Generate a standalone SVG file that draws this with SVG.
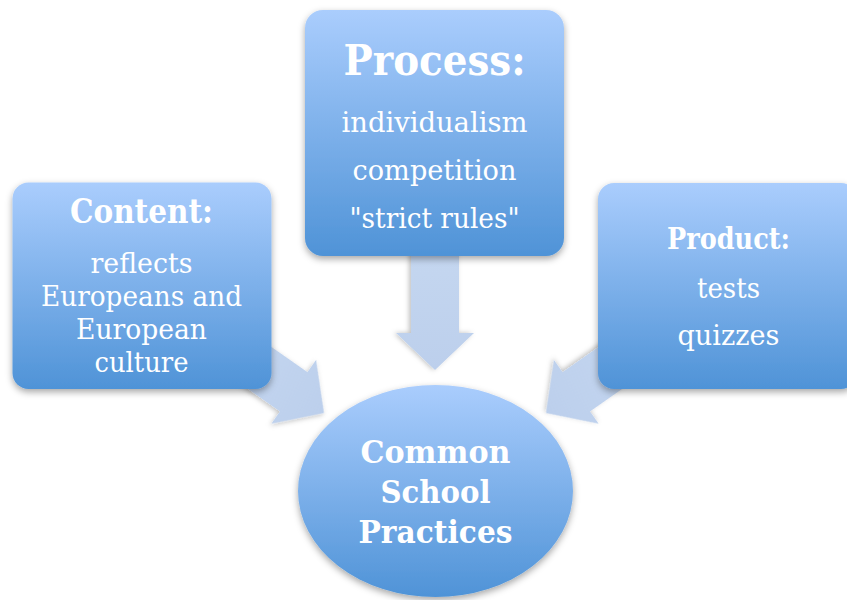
<svg xmlns="http://www.w3.org/2000/svg" width="847" height="600" viewBox="0 0 847 600">
  <defs>
    <linearGradient id="boxGrad" x1="0" y1="0" x2="0" y2="1">
      <stop offset="0" stop-color="#aacdfd"/>
      <stop offset="1" stop-color="#4f93d7"/>
    </linearGradient>
    <linearGradient id="arrowGrad" x1="0" y1="0" x2="1" y2="0">
      <stop offset="0" stop-color="#c5d7f0"/>
      <stop offset="1" stop-color="#bccfec"/>
    </linearGradient>
    <filter id="shadow" x="-20%" y="-20%" width="140%" height="140%">
      <feDropShadow dx="0" dy="3" stdDeviation="3.5" flood-color="#000" flood-opacity="0.35"/>
    </filter>
    <filter id="ashadow" x="-20%" y="-20%" width="140%" height="140%">
      <feDropShadow dx="0" dy="2" stdDeviation="2.5" flood-color="#000" flood-opacity="0.25"/>
    </filter>
    <path id="arrowShape" d="M -125,-24 L -37,-24 L -37,-39 L 0,0 L -37,39 L -37,24 L -125,24 Z"/>
  </defs>
  <style>
    .box { fill: url(#boxGrad); filter: url(#shadow); }
    .arrow { fill: url(#arrowGrad); filter: url(#ashadow); }
    .title { font-family: "DejaVu Serif", "Liberation Serif", serif; font-weight: bold; fill: #ffffff; text-anchor: middle; }
    .body { font-family: "DejaVu Serif", "Liberation Serif", serif; fill: #ffffff; text-anchor: middle; }
  </style>
  <rect width="847" height="600" fill="#ffffff"/>

  <g id="connectors">
    <use href="#arrowShape" class="arrow" transform="translate(435,370) rotate(90)"/>
    <use href="#arrowShape" class="arrow" transform="translate(324,413) rotate(35)"/>
    <use href="#arrowShape" class="arrow" transform="translate(546,413) rotate(145)"/>
  </g>

  <g id="content">
    <rect class="box" x="12.5" y="182.5" width="259" height="206.5" rx="16"/>
    <text class="title" x="141.5" y="223" font-size="34" textLength="143" lengthAdjust="spacingAndGlyphs">Content:</text>
    <text class="body" x="141.5" y="273" font-size="27" textLength="102" lengthAdjust="spacingAndGlyphs">reflects</text>
    <text class="body" x="141.5" y="306" font-size="27" textLength="201" lengthAdjust="spacingAndGlyphs">Europeans and</text>
    <text class="body" x="141.5" y="339" font-size="27" textLength="131" lengthAdjust="spacingAndGlyphs">European</text>
    <text class="body" x="141.5" y="372" font-size="27" textLength="94" lengthAdjust="spacingAndGlyphs">culture</text>
  </g>

  <g id="process">
    <rect class="box" x="305" y="10" width="259" height="246" rx="18"/>
    <text class="title" x="434.5" y="75" font-size="43" textLength="182" lengthAdjust="spacingAndGlyphs">Process:</text>
    <text class="body" x="434.5" y="132" font-size="27.5" textLength="186" lengthAdjust="spacingAndGlyphs">individualism</text>
    <text class="body" x="434.5" y="180" font-size="27.5" textLength="164" lengthAdjust="spacingAndGlyphs">competition</text>
    <text class="body" x="434.5" y="228" font-size="27.5" textLength="170" lengthAdjust="spacingAndGlyphs">"strict rules"</text>
  </g>

  <g id="product">
    <rect class="box" x="598" y="183" width="259" height="206" rx="16"/>
    <text class="title" x="728.5" y="249" font-size="29" textLength="123" lengthAdjust="spacingAndGlyphs">Product:</text>
    <text class="body" x="728.5" y="298" font-size="27.5" textLength="63" lengthAdjust="spacingAndGlyphs">tests</text>
    <text class="body" x="728.5" y="345" font-size="27.5" textLength="102" lengthAdjust="spacingAndGlyphs">quizzes</text>
  </g>

  <g id="common-school-practices">
    <ellipse class="box" cx="435.5" cy="491" rx="137.5" ry="106"/>
    <text class="title" x="435.5" y="463" font-size="32" textLength="150" lengthAdjust="spacingAndGlyphs">Common</text>
    <text class="title" x="435.5" y="503" font-size="32" textLength="110" lengthAdjust="spacingAndGlyphs">School</text>
    <text class="title" x="435.5" y="543" font-size="32" textLength="154" lengthAdjust="spacingAndGlyphs">Practices</text>
  </g>
</svg>
